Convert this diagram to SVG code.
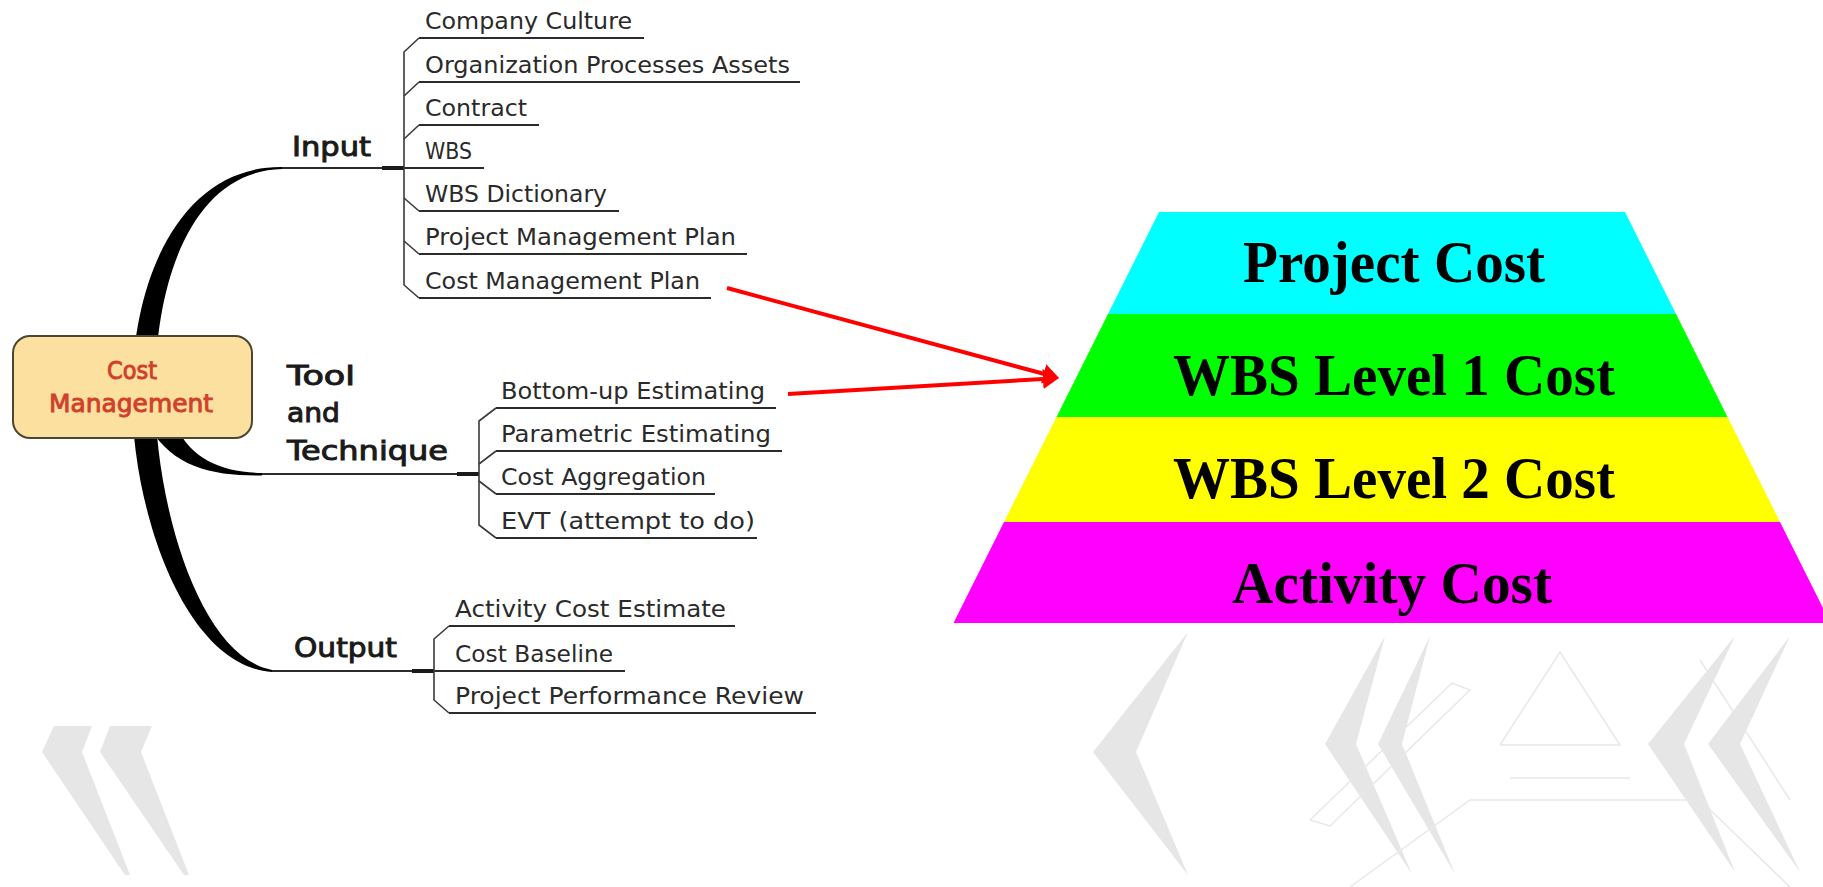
<svg xmlns="http://www.w3.org/2000/svg" width="1823" height="887" viewBox="0 0 1823 887">
<style>
.bg{fill:#fff}
.deco{fill:#e6e6e6}
.decol{fill:none;stroke:#e8e8e8;stroke-width:1.5}
.item{font-family:"DejaVu Sans","Liberation Sans",sans-serif;font-size:23px;fill:#2a2a2a}
.lab{font-family:"DejaVu Sans","Liberation Sans",sans-serif;font-size:27px;fill:#1a1a1a;stroke:#1a1a1a;stroke-width:1}
.ul{stroke:#2b2b2b;stroke-width:2;fill:none}
.br{stroke:#3a3a3a;stroke-width:1.6;fill:none}
.thick{stroke:#1a1a1a;stroke-width:4;fill:none}
.curve{fill:#000}
.red{stroke:#ff0000;stroke-width:4;fill:none}
.pyr{font-family:"Liberation Serif","Times New Roman",serif;font-size:60px;font-weight:bold;fill:#000;text-anchor:middle}
.core{fill:#fbe0a0;stroke:#4a4632;stroke-width:2}
.coret{font-family:"DejaVu Sans","Liberation Sans",sans-serif;font-size:24px;fill:#d0402a;stroke:#d0402a;stroke-width:0.9;text-anchor:middle}
</style>
<defs>
<marker id="ah" markerUnits="userSpaceOnUse" markerWidth="16" markerHeight="20" refX="0" refY="10" orient="auto">
<path d="M0,0 L16,10 L0,20 Z" fill="#ff0000"/>
</marker>
</defs>
<rect class="bg" x="0" y="0" width="1823" height="887"/>

<g id="decor">
<polygon class="deco" points="54,726 92,726 82,752 130,875 125,875 42,752"/>
<polygon class="deco" points="110,726 152,726 141,752 189,875 184,875 100,752"/>
<polygon class="deco" points="1188,632 1093,752 1188,875 1136,752"/>
<polygon class="deco" points="1385,636 1325,744 1412,874 1356,744"/>
<polygon class="deco" points="1430,636 1378,744 1455,874 1402,744"/>
<polygon class="deco" points="1735,636 1648,744 1735,872 1684,744"/>
<polygon class="deco" points="1790,636 1708,744 1800,872 1740,744"/>
<polyline class="decol" points="1310,820 1452,683 1470,690 1330,826 1310,820"/>
<polyline class="decol" points="1500,745 1560,652 1620,745 1500,745"/>
<polyline class="decol" points="1510,778 1630,778"/>
<polyline class="decol" points="1350,887 1470,800 1700,800 1790,887"/>
<polyline class="decol" points="1700,660 1790,800"/>
</g>

<g id="connectors">
<path class="curve" d="M282,167 C186,166 134,268 132,388 C130,505 183,666 272,672 L272,670 C198,656 154,500 155,388 C156,272 196,171 282,169 Z"/>
<path class="curve" d="M150,428 C174,468 214,476 262,475.5 L262,473 C222,472 192,460 176,426 Z"/>
<line class="ul" x1="282" y1="168" x2="419" y2="168"/>
<line class="thick" x1="382" y1="168" x2="404" y2="168"/>
<line class="ul" x1="262" y1="474" x2="479" y2="474"/>
<line class="thick" x1="457" y1="474" x2="479" y2="474"/>
<line class="ul" x1="272" y1="671" x2="449" y2="671"/>
<line class="thick" x1="412" y1="671" x2="434" y2="671"/>
<path class="br" d="M419,38 L404,52 L404,285 L419,298"/>
<path class="br" d="M419,82 L404,96"/>
<path class="br" d="M419,125 L404,139"/>
<path class="br" d="M404,198 L419,211"/>
<path class="br" d="M404,241 L419,254"/>
<path class="br" d="M496,408 L479,421 L479,525 L496,538"/>
<path class="br" d="M496,451 L479,464"/>
<path class="br" d="M479,481 L496,494"/>
<path class="br" d="M449,626 L434,639 L434,700 L449,713"/>
<line class="red" x1="727" y1="288" x2="1043.6" y2="373.8" marker-end="url(#ah)"/>
<line class="red" x1="788" y1="394" x2="1043" y2="378.9" marker-end="url(#ah)"/>
</g>

<g id="node-cost-management">
<rect class="core" x="13" y="336" width="239" height="102" rx="17" ry="17"/>
<text class="coret" x="132" y="379" textLength="50" lengthAdjust="spacingAndGlyphs">Cost</text>
<text class="coret" x="131" y="412" textLength="164" lengthAdjust="spacingAndGlyphs">Management</text>
</g>

<g id="node-input"><text class="lab" x="292" y="156" textLength="79" lengthAdjust="spacingAndGlyphs">Input</text></g>
<g id="node-tool">
<text class="lab" x="287" y="385" textLength="68" lengthAdjust="spacingAndGlyphs">Tool</text>
<text class="lab" x="287" y="422" textLength="53" lengthAdjust="spacingAndGlyphs">and</text>
<text class="lab" x="287" y="460" textLength="161" lengthAdjust="spacingAndGlyphs">Technique</text>
</g>
<g id="node-output"><text class="lab" x="294" y="657" textLength="103" lengthAdjust="spacingAndGlyphs">Output</text></g>

<g id="node-company-culture"><text class="item" x="425" y="29" textLength="207" lengthAdjust="spacingAndGlyphs">Company Culture</text><line class="ul" x1="419" y1="38" x2="644" y2="38"/></g>
<g id="node-opa"><text class="item" x="425" y="73" textLength="365" lengthAdjust="spacingAndGlyphs">Organization Processes Assets</text><line class="ul" x1="419" y1="82" x2="800" y2="82"/></g>
<g id="node-contract"><text class="item" x="425" y="116" textLength="102" lengthAdjust="spacingAndGlyphs">Contract</text><line class="ul" x1="419" y1="125" x2="539" y2="125"/></g>
<g id="node-wbs"><text class="item" x="425" y="159" textLength="47" lengthAdjust="spacingAndGlyphs">WBS</text><line class="ul" x1="419" y1="168" x2="484" y2="168"/></g>
<g id="node-wbs-dictionary"><text class="item" x="425" y="202" textLength="182" lengthAdjust="spacingAndGlyphs">WBS Dictionary</text><line class="ul" x1="419" y1="211" x2="619" y2="211"/></g>
<g id="node-pmp"><text class="item" x="425" y="245" textLength="311" lengthAdjust="spacingAndGlyphs">Project Management Plan</text><line class="ul" x1="419" y1="254" x2="747" y2="254"/></g>
<g id="node-cmp"><text class="item" x="425" y="289" textLength="275" lengthAdjust="spacingAndGlyphs">Cost Management Plan</text><line class="ul" x1="419" y1="298" x2="711" y2="298"/></g>

<g id="node-bottom-up"><text class="item" x="501" y="399" textLength="264" lengthAdjust="spacingAndGlyphs">Bottom-up Estimating</text><line class="ul" x1="496" y1="408" x2="776" y2="408"/></g>
<g id="node-parametric"><text class="item" x="501" y="442" textLength="270" lengthAdjust="spacingAndGlyphs">Parametric Estimating</text><line class="ul" x1="496" y1="451" x2="782" y2="451"/></g>
<g id="node-cost-aggregation"><text class="item" x="501" y="485" textLength="205" lengthAdjust="spacingAndGlyphs">Cost Aggregation</text><line class="ul" x1="496" y1="494" x2="715" y2="494"/></g>
<g id="node-evt"><text class="item" x="501" y="529" textLength="254" lengthAdjust="spacingAndGlyphs">EVT (attempt to do)</text><line class="ul" x1="496" y1="538" x2="757" y2="538"/></g>

<g id="node-activity-cost-estimate"><text class="item" x="455" y="617" textLength="271" lengthAdjust="spacingAndGlyphs">Activity Cost Estimate</text><line class="ul" x1="449" y1="626" x2="735" y2="626"/></g>
<g id="node-cost-baseline"><text class="item" x="455" y="662" textLength="158" lengthAdjust="spacingAndGlyphs">Cost Baseline</text><line class="ul" x1="449" y1="671" x2="625" y2="671"/></g>
<g id="node-ppr"><text class="item" x="455" y="704" textLength="349" lengthAdjust="spacingAndGlyphs">Project Performance Review</text><line class="ul" x1="449" y1="713" x2="816" y2="713"/></g>

<g id="node-project-cost"><polygon fill="#00ffff" points="1159,212 1625,212 1676,314 1108,314"/><text class="pyr" x="1394" y="282" textLength="302" lengthAdjust="spacingAndGlyphs">Project Cost</text></g>
<g id="node-wbs-level-1"><polygon fill="#00ff00" points="1108,314 1676,314 1727.5,417 1056.5,417"/><text class="pyr" x="1394" y="395" textLength="442" lengthAdjust="spacingAndGlyphs">WBS Level 1 Cost</text></g>
<g id="node-wbs-level-2"><polygon fill="#ffff00" points="1056.5,417 1727.5,417 1780,522 1004,522"/><text class="pyr" x="1394" y="498" textLength="442" lengthAdjust="spacingAndGlyphs">WBS Level 2 Cost</text></g>
<g id="node-activity-cost"><polygon fill="#ff00ff" points="1004,522 1780,522 1830.5,623 953.5,623"/><text class="pyr" x="1392" y="603" textLength="320" lengthAdjust="spacingAndGlyphs">Activity Cost</text></g>
</svg>
